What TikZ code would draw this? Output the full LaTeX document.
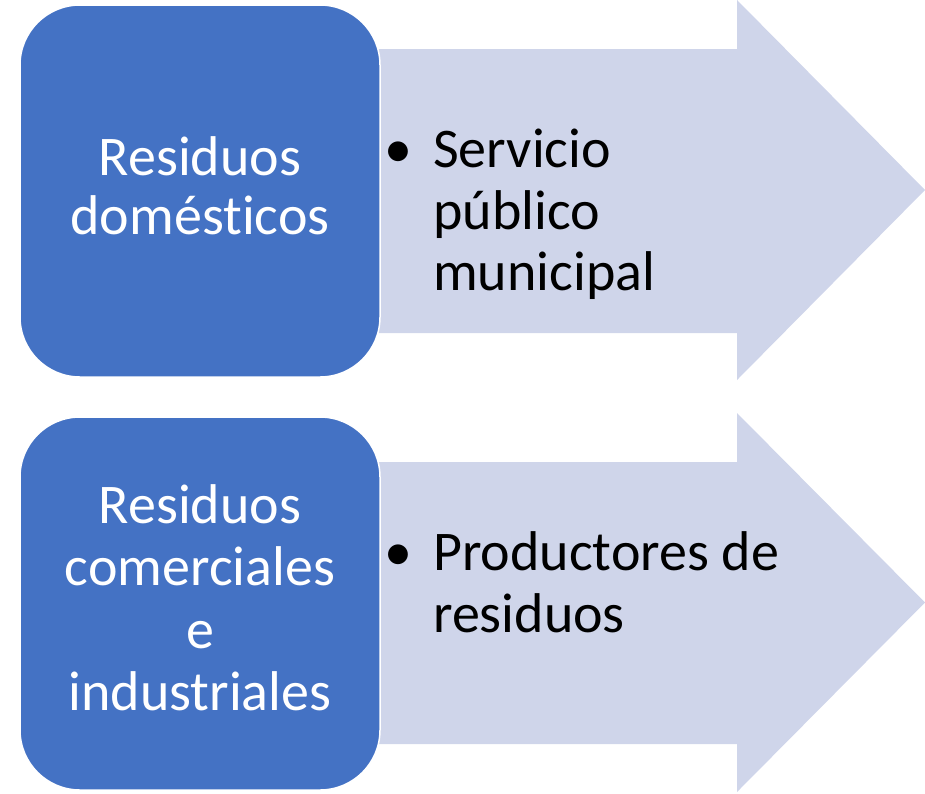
\documentclass[tikz,border=0pt]{standalone}
\usepackage{fontspec}
\setmainfont{Carlito}[Ligatures=NoCommon]
\definecolor{boxblue}{HTML}{4472C4}
\definecolor{arrowfill}{HTML}{CFD5EA}
\begin{document}
\begin{tikzpicture}[x=1pt,y=-1pt,
  bigarrow/.style={fill=arrowfill,draw=none},
  bluebox/.style={fill=boxblue,draw=white,line width=1.5pt,rounded corners=60pt},
  boxtext/.style={anchor=base,text=white,inner sep=0pt,font=\fontsize{56}{62}\selectfont},
  bullettext/.style={anchor=base west,text=black,inner sep=0pt,font=\fontsize{56}{62}\selectfont},
  bulletmark/.style={anchor=base,text=black,inner sep=0pt,font=\fontsize{56}{62}\selectfont}]
\useasboundingbox (0,0) rectangle (925,793);
% arrows
\fill[bigarrow] (370,49) -- (737,49) -- (737,0) -- (925,190) -- (737,380) -- (737,333) -- (370,333) -- cycle;
\fill[bigarrow] (370,462) -- (737,462) -- (737,413) -- (925,602.5) -- (737,792) -- (737,744) -- (370,744) -- cycle;
% blue boxes
\draw[bluebox] (20,5) rectangle (380,377);
\draw[bluebox] (20,417) rectangle (380,790);
% box texts
\node[boxtext] (a1) at (200,175) {Residuos};
\node[boxtext] (a2) at (200,234) {domésticos};
\node[boxtext] (b1) at (200,523) {Residuos};
\node[boxtext] (b2) at (200,585) {comerciales};
\node[boxtext] (b3) at (200,648) {e};
\node[boxtext] (b4) at (200,710) {industriales};
% bullet texts
\node[bulletmark] (m1) at (398,167) {•};
\node[bullettext] (c1) at (433,167) {Servicio};
\node[bullettext] (c2) at (433,229) {público};
\node[bullettext] (c3) at (433,290) {municipal};
\node[bulletmark] (m2) at (398,570) {•};
\node[bullettext] (d1) at (433,570) {Productores de};
\node[bullettext] (d2) at (433,632) {residuos};
\end{tikzpicture}
\end{document}
